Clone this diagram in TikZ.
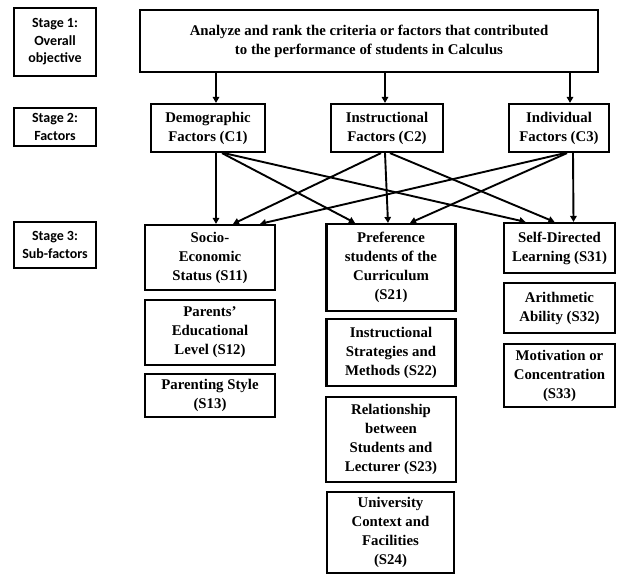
\documentclass[tikz,border=0pt]{standalone}
\usepackage{fontspec}
\setmainfont{Liberation Serif}
\newfontfamily\stagefont{Carlito}
\usetikzlibrary{arrows.meta}
\tikzset{
  box/.style={draw, line width=2.2pt, align=center, inner sep=0pt,
    font=\bfseries\fontsize{14.8}{19}\selectfont},
  stagebox/.style={box, font=\stagefont\bfseries\fontsize{14}{17.5}\selectfont},
  conn/.style={line width=1.9pt, -{Triangle[length=6pt,width=6.5pt]}},
}
\begin{document}
\begin{tikzpicture}[x=1pt,y=-1pt]
\useasboundingbox (0,0) rectangle (620,575);
% stage labels
\node[stagebox, minimum width=82pt, minimum height=68pt] (st1) at (55,42) {Stage 1:\\Overall\\objective};
\node[stagebox, minimum width=82pt, minimum height=38pt] (st2) at (55,127) {Stage 2:\\Factors};
\node[stagebox, minimum width=82pt, minimum height=46pt] (st3) at (55,245) {Stage 3:\\Sub-factors};
% objective
\node[box, minimum width=458pt, minimum height=62pt] (top) at (369,41) {Analyze and rank the criteria or factors that contributed\\to the performance of students in Calculus};
% factors
\node[box, minimum width=114pt, minimum height=48pt] (C1) at (208,128) {Demographic\\Factors (C1)};
\node[box, minimum width=112pt, minimum height=48pt] (C2) at (387,128) {Instructional\\Factors (C2)};
\node[box, minimum width=100pt, minimum height=48pt] (C3) at (559,128) {Individual\\Factors (C3)};
% sub-factors
\node[box, minimum width=130pt, minimum height=65pt] (S11) at (210,257.5) {Socio-\\Economic\\Status (S11)};
\node[box, minimum width=130pt, minimum height=65pt] (S12) at (210,332.5) {Parents'\\Educational\\Level (S12)};
\node[box, minimum width=130pt, minimum height=43pt] (S13) at (210,395.5) {Parenting Style\\(S13)};
\node[box, minimum width=129pt, minimum height=87pt] (S21) at (391,267.5) {Preference\\students of the\\Curriculum\\(S21)};
\node[box, minimum width=129pt, minimum height=67pt] (S22) at (391,352.5) {Instructional\\Strategies and\\Methods (S22)};
\node[box, minimum width=130pt, minimum height=85pt] (S23) at (391,439.5) {Relationship\\between\\Students and\\Lecturer (S23)};
\node[box, minimum width=127pt, minimum height=81pt] (S24) at (390.5,532.5) {University\\Context and\\Facilities\\(S24)};
\node[box, minimum width=111pt, minimum height=50pt] (S31) at (559.5,248) {Self-Directed\\Learning (S31)};
\node[box, minimum width=111pt, minimum height=50pt] (S32) at (559.5,308) {Arithmetic\\Ability (S32)};
\node[box, minimum width=111pt, minimum height=63pt] (S33) at (559.5,375.5) {Motivation or\\Concentration\\(S33)};
% objective to factors
\draw[conn] (top.south -| C1.north) ++(8pt,0) -- ([xshift=8pt]C1.north);
\draw[conn] (top.south -| C2.north) ++(-2pt,0) -- ([xshift=-2pt]C2.north);
\draw[conn] (top.south -| C3.north) ++(11pt,0) -- ([xshift=11pt]C3.north);
% factors to sub-factors
\draw[conn] ([xshift=8pt]C1.south) -- ([xshift=6pt]S11.north);
\draw[conn] ([xshift=14pt]C1.south) -- ([xshift=-36pt]S21.north);
\draw[conn] ([xshift=16pt]C1.south) -- ([xshift=-34pt]S31.north);
\draw[conn] ([xshift=-6pt]C2.south) -- ([xshift=23pt]S11.north);
\draw[conn] ([xshift=-2pt]C2.south) -- ([xshift=-3pt]S21.north);
\draw[conn] ([xshift=3pt]C2.south) -- ([xshift=-5pt]S31.north);
\draw[conn] ([xshift=6pt]C3.south) -- ([xshift=50pt]S11.north);
\draw[conn] ([xshift=8pt]C3.south) -- ([xshift=19pt]S21.north);
\draw[conn] ([xshift=14pt]C3.south) -- ([xshift=14pt]S31.north);
\end{tikzpicture}
\end{document}
